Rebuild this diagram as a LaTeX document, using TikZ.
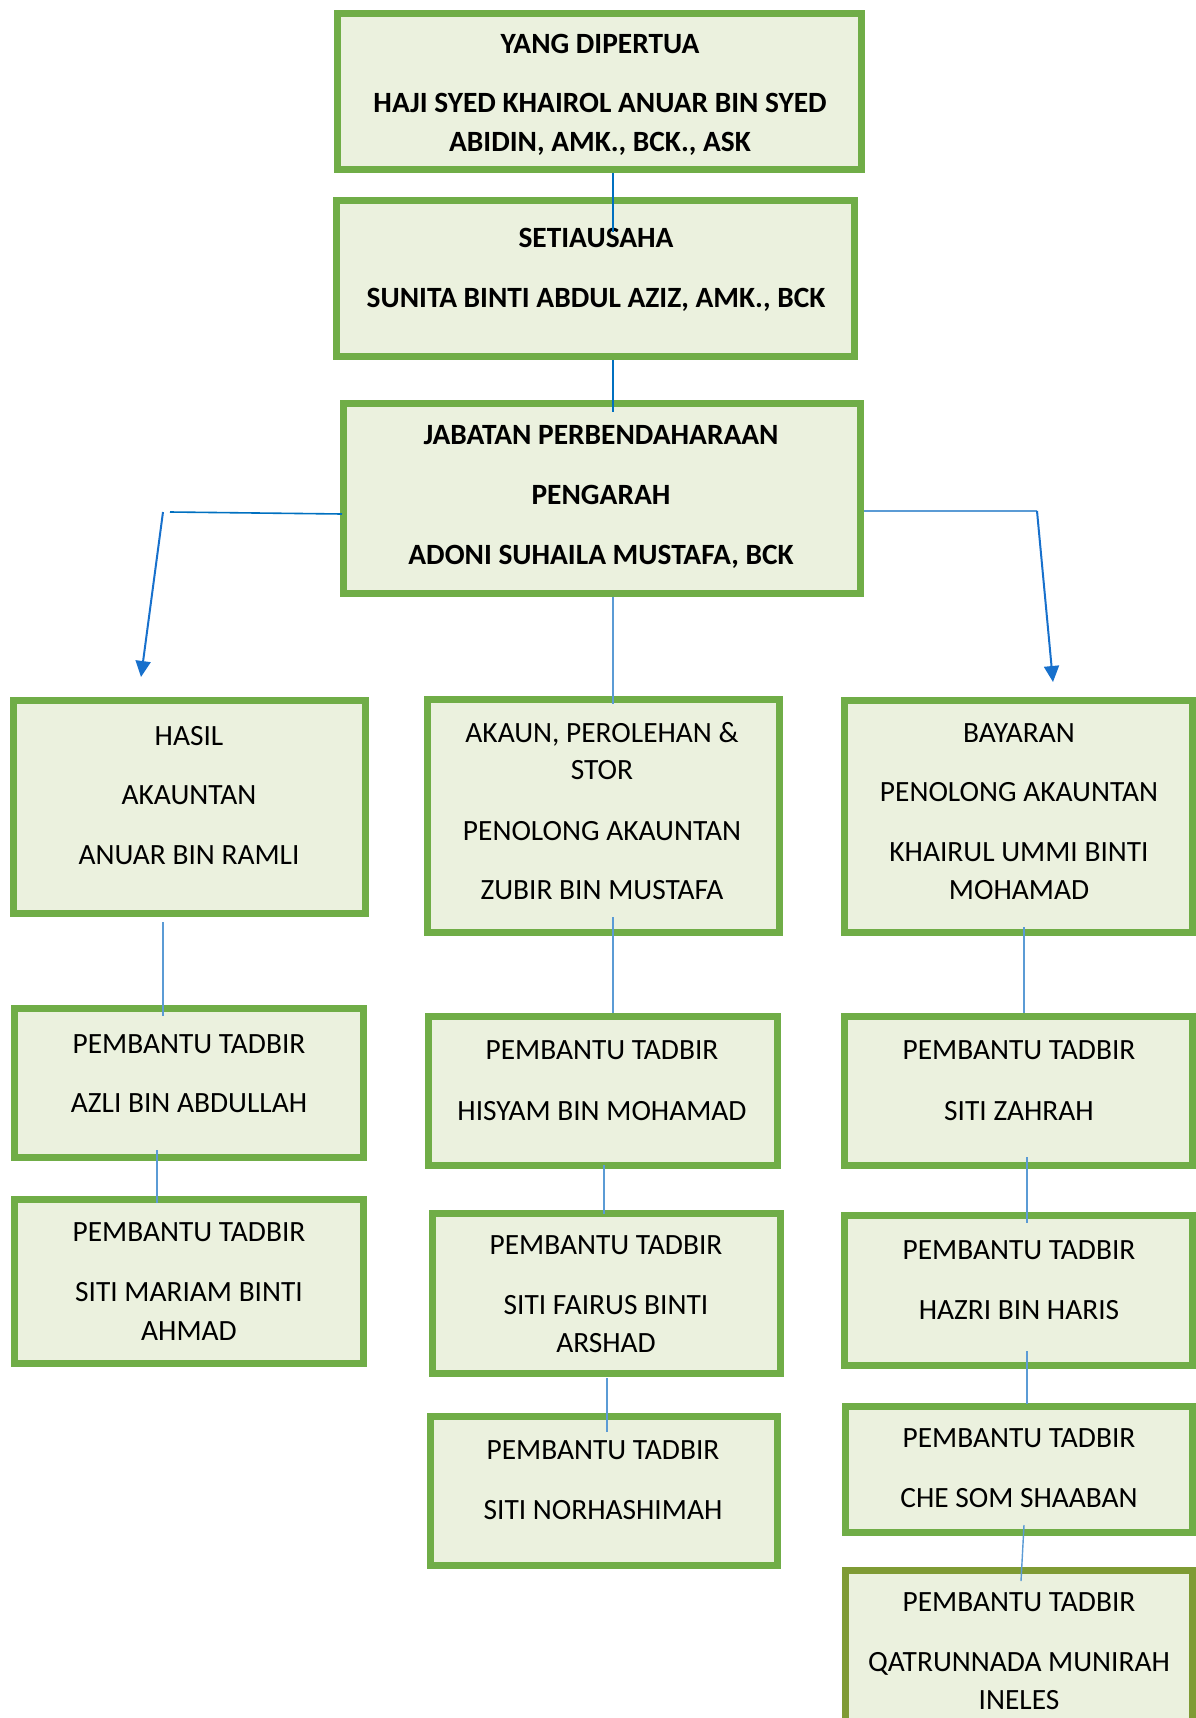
\documentclass[tikz,border=0pt]{standalone}
\usepackage{fontspec}
\setmainfont{Carlito}
\usetikzlibrary{arrows.meta}
\definecolor{boxfill}{HTML}{EBF1DE}
\definecolor{boxdraw}{HTML}{70AD47}
\definecolor{olivdraw}{HTML}{7F9B34}
\definecolor{lnk}{HTML}{5B9BD5}
\definecolor{lnkd}{HTML}{0070C0}
\definecolor{arr}{HTML}{1770CC}
\begin{document}
\begin{tikzpicture}[x=1pt,y=-1pt,
 orgbox/.style={draw=boxdraw, fill=boxfill, line width=7pt, inner sep=0pt, rectangle},
 txt/.style={anchor=base, inner sep=0pt, font=\fontsize{29.4}{35}\selectfont},
 btxt/.style={anchor=base, inner sep=0pt, font=\fontsize{29.4}{35}\selectfont\bfseries},
 conn/.style={draw=lnk, line width=1.4pt},
 connd/.style={draw=lnkd, line width=1.6pt},
 arrline/.style={draw=arr, line width=2pt, -{Triangle[length=16pt,width=15pt]}}]
\useasboundingbox (0,0) rectangle (1196,1718);

% boxes
\node[orgbox, minimum width=524pt, minimum height=156pt] (b1) at (599.5,91.5) {};
\node[orgbox, minimum width=518pt, minimum height=156pt] (b2) at (595.5,278.5) {};
\node[orgbox, minimum width=517pt, minimum height=190pt] (b3) at (602,498.5) {};
\node[orgbox, minimum width=352pt, minimum height=213pt] (l1) at (189.5,807) {};
\node[orgbox, minimum width=349pt, minimum height=149pt] (l2) at (189,1083) {};
\node[orgbox, minimum width=349pt, minimum height=164pt] (l3) at (189,1281.5) {};
\node[orgbox, minimum width=352pt, minimum height=233pt] (m1) at (603.5,816) {};
\node[orgbox, minimum width=349pt, minimum height=149pt] (m2) at (603,1091) {};
\node[orgbox, minimum width=348pt, minimum height=160pt] (m3) at (606.5,1293.5) {};
\node[orgbox, minimum width=347pt, minimum height=149pt] (m4) at (604,1491) {};
\node[orgbox, minimum width=348pt, minimum height=232pt] (r1) at (1018.5,816.5) {};
\node[orgbox, minimum width=348pt, minimum height=149pt] (r2) at (1018.5,1091) {};
\node[orgbox, minimum width=348pt, minimum height=150pt] (r3) at (1018.5,1290.5) {};
\node[orgbox, minimum width=347pt, minimum height=126pt] (r4) at (1019,1469.5) {};
\node[orgbox, draw=olivdraw, minimum width=347pt, minimum height=166pt] (r5) at (1019,1653.5) {};

% texts
\node[btxt] (t1a) at (600,54) {YANG DIPERTUA};
\node[btxt] (t1b) at (600,113) {HAJI SYED KHAIROL ANUAR BIN SYED};
\node[btxt] (t1c) at (600,151) {ABIDIN, AMK., BCK., ASK};
\node[btxt] (t2a) at (596,247) {SETIAUSAHA};
\node[btxt] (t2b) at (596,307) {SUNITA BINTI ABDUL AZIZ, AMK., BCK};
\node[btxt] (t3a) at (601,444) {JABATAN PERBENDAHARAAN};
\node[btxt] (t3b) at (601,504) {PENGARAH};
\node[btxt] (t3c) at (601,564) {ADONI SUHAILA MUSTAFA, BCK};

\node[txt] (tl1a) at (189,745) {HASIL};
\node[txt] (tl1b) at (189,804) {AKAUNTAN};
\node[txt] (tl1c) at (189,864) {ANUAR BIN RAMLI};
\node[txt] (tl2a) at (189,1053) {PEMBANTU TADBIR};
\node[txt] (tl2b) at (189,1112) {AZLI BIN ABDULLAH};
\node[txt] (tl3a) at (189,1241) {PEMBANTU TADBIR};
\node[txt] (tl3b) at (189,1301) {SITI MARIAM BINTI};
\node[txt] (tl3c) at (189,1340) {AHMAD};

\node[txt] (tm1a) at (602,742) {AKAUN, PEROLEHAN \&};
\node[txt] (tm1b) at (602,779) {STOR};
\node[txt] (tm1c) at (602,840) {PENOLONG AKAUNTAN};
\node[txt] (tm1d) at (602,899) {ZUBIR BIN MUSTAFA};
\node[txt] (tm2a) at (602,1059) {PEMBANTU TADBIR};
\node[txt] (tm2b) at (602,1120) {HISYAM BIN MOHAMAD};
\node[txt] (tm3a) at (606,1254) {PEMBANTU TADBIR};
\node[txt] (tm3b) at (606,1314) {SITI FAIRUS BINTI};
\node[txt] (tm3c) at (606,1352) {ARSHAD};
\node[txt] (tm4a) at (603,1459) {PEMBANTU TADBIR};
\node[txt] (tm4b) at (603,1519) {SITI NORHASHIMAH};

\node[txt] (tr1a) at (1019,742) {BAYARAN};
\node[txt] (tr1b) at (1019,801) {PENOLONG AKAUNTAN};
\node[txt] (tr1c) at (1019,861) {KHAIRUL UMMI BINTI};
\node[txt] (tr1d) at (1019,899) {MOHAMAD};
\node[txt] (tr2a) at (1019,1059) {PEMBANTU TADBIR};
\node[txt] (tr2b) at (1019,1120) {SITI ZAHRAH};
\node[txt] (tr3a) at (1019,1259) {PEMBANTU TADBIR};
\node[txt] (tr3b) at (1019,1319) {HAZRI BIN HARIS};
\node[txt] (tr4a) at (1019,1447) {PEMBANTU TADBIR};
\node[txt] (tr4b) at (1019,1507) {CHE SOM SHAABAN};
\node[txt] (tr5a) at (1019,1611) {PEMBANTU TADBIR};
\node[txt] (tr5b) at (1019,1671) {QATRUNNADA MUNIRAH};
\node[txt] (tr5c) at (1019,1709) {INELES};

% connector end points
\coordinate (c12s) at (613,173);  \coordinate (c12e) at (613,232);
\coordinate (c23s) at (613,360);  \coordinate (c23e) at (613,412);
\coordinate (cLs) at (342,514);   \coordinate (cLe) at (170,512);
\coordinate (aLs) at (163,512);   \coordinate (aLe) at (141,677);
\coordinate (cRs) at (864,511);   \coordinate (cRk) at (1037,511); \coordinate (aRe) at (1053,682);
\coordinate (c3ms) at (613,597);  \coordinate (c3me) at (613,704);
\coordinate (cm12s) at (613,917); \coordinate (cm12e) at (613,1013);
\coordinate (cl12s) at (163,922); \coordinate (cl12e) at (163,1016);
\coordinate (cl23s) at (157,1150);\coordinate (cl23e) at (157,1203);
\coordinate (cm23s) at (604,1165);\coordinate (cm23e) at (604,1214);
\coordinate (cm34s) at (607,1378);\coordinate (cm34e) at (607,1432);
\coordinate (cr12s) at (1024,927);\coordinate (cr12e) at (1024,1013);
\coordinate (cr23s) at (1027,1157);\coordinate (cr23e) at (1027,1223);
\coordinate (cr34s) at (1027,1351);\coordinate (cr34e) at (1027,1404);
\coordinate (cr45s) at (1024,1525);\coordinate (cr45e) at (1021,1581);

% connectors
\draw[connd] (c12s) -- (c12e);
\draw[connd] (c23s) -- (c23e);
\draw[connd] (cLs) -- (cLe);
\draw[arrline] (aLs) -- (aLe);
\draw[conn] (cRs) -- (cRk);
\draw[arrline] (cRk) -- (aRe);
\draw[conn] (c3ms) -- (c3me);
\draw[conn] (cm12s) -- (cm12e);
\draw[conn] (cl12s) -- (cl12e);
\draw[conn] (cl23s) -- (cl23e);
\draw[conn] (cm23s) -- (cm23e);
\draw[conn] (cm34s) -- (cm34e);
\draw[conn] (cr12s) -- (cr12e);
\draw[conn] (cr23s) -- (cr23e);
\draw[conn] (cr34s) -- (cr34e);
\draw[conn] (cr45s) -- (cr45e);
\end{tikzpicture}
\end{document}
